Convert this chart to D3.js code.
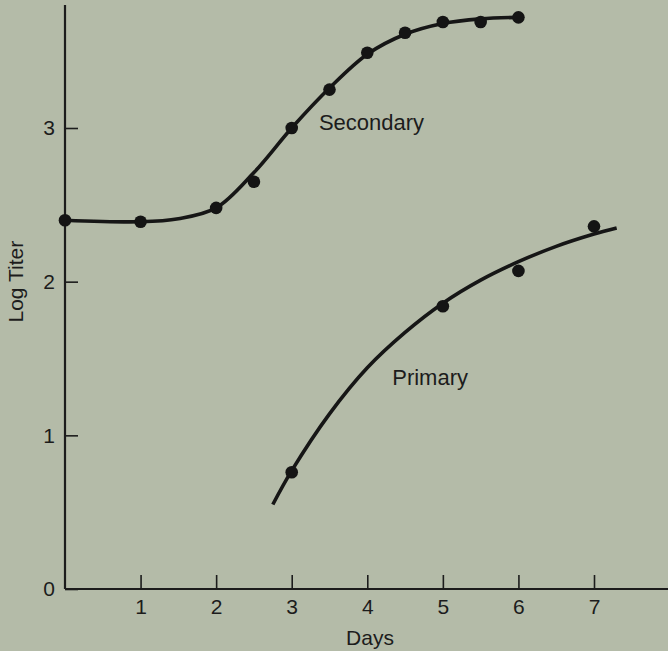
<!DOCTYPE html>
<html>
<head>
<meta charset="utf-8">
<script src="https://cdn.jsdelivr.net/npm/d3@7"></script>
<style>
  html, body { margin: 0; padding: 0; background: #b4bba8; }
  svg { display: block; }
  text { font-family: "Liberation Sans", Arial, Helvetica, sans-serif; fill: #1c1c1c; }
</style>
</head>
<body>
<div id="chart"></div>
<script>
// values
var xTicks = [1, 2, 3, 4, 5, 6, 7];
var yTicks = [0, 1, 2, 3];

// secondary response: measured points
var secDays = [0, 1, 2, 2.5, 3, 3.5, 4, 4.5, 5, 5.5, 6];
var secTiter = [2.4, 2.39, 2.48, 2.65, 3.0, 3.25, 3.49, 3.62, 3.69, 3.69, 3.72];
// secondary: hand drawn curve
var secCurveDays = [0, 1, 1.5, 2, 2.5, 3, 3.5, 4, 4.5, 5, 5.5, 6];
var secCurveTiter = [2.4, 2.39, 2.41, 2.48, 2.71, 3.0, 3.26, 3.48, 3.61, 3.68, 3.71, 3.72];

// primary response: measured points
var priDays = [3, 5, 6, 7];
var priTiter = [0.76, 1.84, 2.07, 2.36];
// primary: hand drawn curve
var priCurveDays = [2.75, 3, 3.5, 4, 4.5, 5, 5.5, 6, 6.5, 7, 7.3];
var priCurveTiter = [0.55, 0.77, 1.14, 1.44, 1.67, 1.86, 2.01, 2.13, 2.23, 2.31, 2.35];

var svg_width = 668;
var svg_height = 651;

var svg = d3.select("#chart")
  .append("svg")
    .attr("width", svg_width)
    .attr("height", svg_height);

var x = d3.scaleLinear().domain([0, 7]).range([65, 594]);
var y = d3.scaleLinear().domain([0, 3]).range([589, 128]);

var xEnd = 8.2;   // axis runs off the right edge
var yTop = 3.8;   // axis top

// axes
var xAxis = svg.append("g")
  .attr("transform", "translate(0," + y(0) + ")")
  .call(d3.axisBottom(x).tickValues(xTicks).tickFormat(d3.format("d"))
    .tickSize(-14).tickPadding(10).tickSizeOuter(0));
xAxis.select(".domain").remove();
xAxis.selectAll("line").attr("stroke", "#1c1c1c").attr("stroke-width", 1.6);
xAxis.selectAll("text").style("font-size", "21px").attr("fill", "#1c1c1c");

var yAxis = svg.append("g")
  .attr("transform", "translate(" + x(0) + ",0)")
  .call(d3.axisLeft(y).tickValues(yTicks).tickFormat(d3.format("d"))
    .tickSize(-13).tickPadding(10).tickSizeOuter(0));
yAxis.select(".domain").remove();
yAxis.selectAll("line").attr("stroke", "#1c1c1c").attr("stroke-width", 1.6);
yAxis.selectAll("text").style("font-size", "21px").attr("fill", "#1c1c1c");

svg.append("line")
  .attr("x1", x(0)).attr("x2", x(xEnd))
  .attr("y1", y(0)).attr("y2", y(0))
  .attr("stroke", "#1c1c1c").attr("stroke-width", 2.2);
svg.append("line")
  .attr("x1", x(0)).attr("x2", x(0))
  .attr("y1", y(0)).attr("y2", y(yTop))
  .attr("stroke", "#1c1c1c").attr("stroke-width", 2.2);

// axis titles
svg.append("text")
  .attr("x", 370).attr("y", 645)
  .attr("text-anchor", "middle")
  .style("font-size", "21px")
  .text("Days");

svg.append("text")
  .attr("transform", "translate(23," + y(2.0) + ") rotate(-90)")
  .attr("text-anchor", "middle")
  .style("font-size", "21px")
  .text("Log Titer");

// curves
var line = d3.line()
  .x(function(d) { return x(d[0]); })
  .y(function(d) { return y(d[1]); })
  .curve(d3.curveCatmullRom.alpha(0.5));

function pairs(a, b) {
  var out = [];
  for (let i = 0; i < a.length; i++) out.push([a[i], b[i]]);
  return out;
}

svg.append("path")
  .datum(pairs(secCurveDays, secCurveTiter))
  .attr("d", line)
  .attr("fill", "none")
  .attr("stroke", "#161616")
  .attr("stroke-width", 3.6)
  .attr("stroke-linecap", "round");

svg.append("path")
  .datum(pairs(priCurveDays, priCurveTiter))
  .attr("d", line)
  .attr("fill", "none")
  .attr("stroke", "#161616")
  .attr("stroke-width", 3.6);

// points
svg.selectAll("circle.sec")
  .data(pairs(secDays, secTiter))
  .enter()
  .append("circle")
  .attr("class", "sec")
  .attr("cx", function(d) { return x(d[0]); })
  .attr("cy", function(d) { return y(d[1]); })
  .attr("r", 6.3)
  .attr("fill", "#141414");

svg.selectAll("circle.pri")
  .data(pairs(priDays, priTiter))
  .enter()
  .append("circle")
  .attr("class", "pri")
  .attr("cx", function(d) { return x(d[0]); })
  .attr("cy", function(d) { return y(d[1]); })
  .attr("r", 6.3)
  .attr("fill", "#141414");

// series labels
svg.append("text")
  .attr("x", x(3.36)).attr("y", y(2.99))
  .style("font-size", "22px")
  .text("Secondary");

svg.append("text")
  .attr("x", x(4.33)).attr("y", y(1.33))
  .style("font-size", "22px")
  .text("Primary");
</script>
</body>
</html>
